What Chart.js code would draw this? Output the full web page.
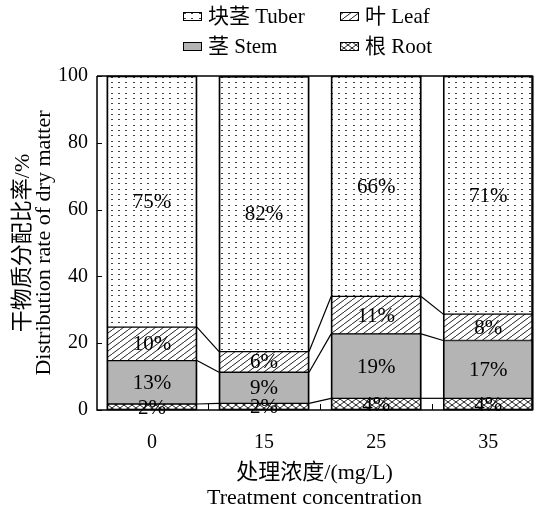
<!DOCTYPE html>
<html>
<head>
<meta charset="utf-8">
<script src="https://cdn.jsdelivr.net/npm/chart.js@4.4.0/dist/chart.umd.min.js"></script>
<style>
html, body { margin: 0; padding: 0; background: #fff; overflow: hidden; }
</style>
</head>
<body>
<canvas id="graphCanvas" width="539" height="510"></canvas>
<script>
// treatment concentrations (mg/L)
const categories = ['0', '15', '25', '35'];
// dry matter distribution (%), bottom to top
const rootVals = [1.8, 2.0, 3.5, 3.5];
const stemVals = [13.0, 9.3, 19.3, 17.3];
const leafVals = [10.0, 6.2, 11.2, 7.9];
const tuberVals = [75.2, 82.4, 66.0, 71.3];
const yTicks = [0, 20, 40, 60, 80, 100];

const serif = "'Liberation Serif', 'Noto Sans CJK SC', serif";

// fill patterns
function makePattern(w, h, draw) {
    const c = document.createElement('canvas');
    c.width = w;
    c.height = h;
    const g = c.getContext('2d');
    g.fillStyle = '#fff';
    g.fillRect(0, 0, w, h);
    draw(g, w, h);
    return g.createPattern(c, 'repeat');
}

const dotFill = makePattern(22, 16, (g) => {
    g.fillStyle = '#444';
    [1, 8, 15].forEach(x => {
        [2, 7, 13].forEach(y => g.fillRect(x, y, 2, 1));
    });
});

const hatchFill = makePattern(8, 6, (g, w, h) => {
    g.strokeStyle = '#222';
    g.lineWidth = 1;
    for (let k = -1; k <= 1; k++) {
        g.beginPath();
        g.moveTo(k * w, h);
        g.lineTo(k * w + w, 0);
        g.stroke();
    }
});

const crossFill = makePattern(8, 6, (g, w, h) => {
    g.strokeStyle = '#222';
    g.lineWidth = 1;
    for (let k = -1; k <= 1; k++) {
        g.beginPath();
        g.moveTo(k * w, h);
        g.lineTo(k * w + w, 0);
        g.moveTo(k * w, 0);
        g.lineTo(k * w + w, h);
        g.stroke();
    }
});

function toPoints(vals) {
    return vals.map((v, i) => ({ x: i, y: v }));
}

// percentage labels + connecting lines between bars
const segmentPlugin = {
    id: 'segments',
    afterDatasetsDraw(chart) {
        const ctx = chart.ctx;
        const n = chart.data.datasets.length;
        ctx.save();
        ctx.strokeStyle = '#000';
        ctx.lineWidth = 1.2;
        for (let d = 0; d < n - 1; d++) {
            const els = chart.getDatasetMeta(d).data;
            for (let i = 0; i < els.length - 1; i++) {
                const a = els[i], b = els[i + 1];
                ctx.beginPath();
                ctx.moveTo(a.x + a.width / 2, a.y);
                ctx.lineTo(b.x - b.width / 2, b.y);
                ctx.stroke();
            }
        }
        // outline of whole bars
        ctx.lineWidth = 1.6;
        const bottoms = chart.getDatasetMeta(0).data;
        const tops = chart.getDatasetMeta(n - 1).data;
        tops.forEach((t, i) => {
            const b = bottoms[i];
            ctx.strokeRect(t.x - t.width / 2 + 0.5, t.y + 0.5, t.width - 1, b.base - t.y - 1);
        });
        ctx.fillStyle = '#000';
        ctx.font = '21px ' + serif;
        ctx.textAlign = 'center';
        ctx.textBaseline = 'middle';
        chart.data.datasets.forEach((ds, d) => {
            chart.getDatasetMeta(d).data.forEach((el, i) => {
                const v = Math.round(ds.data[i].y);
                ctx.fillText(v + '%', el.x, (el.y + el.base) / 2 + 1);
            });
        });
        ctx.restore();
    },
    afterDraw(chart) {
        const ctx = chart.ctx;
        const area = chart.chartArea;
        const xs = chart.scales.x, ys = chart.scales.y;
        ctx.save();
        ctx.strokeStyle = '#000';
        ctx.lineWidth = 1.5;
        // frame
        ctx.beginPath();
        ctx.moveTo(area.left, area.top);
        ctx.lineTo(area.right, area.top);
        ctx.lineTo(area.right, area.bottom);
        ctx.lineTo(area.left, area.bottom);
        ctx.lineTo(area.left, area.top);
        ctx.stroke();
        // inward ticks
        ctx.lineWidth = 1;
        yTicks.forEach(t => {
            const y = Math.round(ys.getPixelForValue(t)) + 0.5;
            ctx.beginPath();
            ctx.moveTo(area.left, y);
            ctx.lineTo(area.left + 5, y);
            ctx.stroke();
        });
        for (let i = 0; i < categories.length - 1; i++) {
            const x = Math.round(xs.getPixelForValue(i + 0.5)) + 0.5;
            ctx.beginPath();
            ctx.moveTo(x, area.bottom);
            ctx.lineTo(x, area.bottom - 6);
            ctx.stroke();
        }
        // legend, two columns
        const slots = [[3, 183, 12], [2, 340, 12], [1, 183, 42], [0, 340, 42]];
        ctx.font = '21px ' + serif;
        ctx.textAlign = 'left';
        ctx.textBaseline = 'middle';
        slots.forEach(([d, x, y]) => {
            const ds = chart.data.datasets[d];
            ctx.fillStyle = ds.backgroundColor;
            ctx.fillRect(x, y, 19, 9);
            ctx.strokeStyle = '#000';
            ctx.strokeRect(x + 0.5, y + 0.5, 18, 8);
            ctx.fillStyle = '#000';
            ctx.fillText(ds.label, x + 25, y + 5);
        });
        ctx.restore();
    }
};

const ctx = document.getElementById('graphCanvas').getContext('2d');

window.myChart = new Chart(ctx, {
    type: 'bar',
    data: {
        datasets: [
            { label: '根 Root', data: toPoints(rootVals), backgroundColor: crossFill },
            { label: '茎 Stem', data: toPoints(stemVals), backgroundColor: '#b4b4b4' },
            { label: '叶 Leaf', data: toPoints(leafVals), backgroundColor: hatchFill },
            { label: '块茎 Tuber', data: toPoints(tuberVals), backgroundColor: dotFill }
        ].map(ds => Object.assign(ds, {
            borderColor: '#000',
            borderWidth: 1,
            borderSkipped: false,
            barThickness: 90
        }))
    },
    options: {
        responsive: false,
        animation: false,
        layout: { padding: { top: 76, right: 7, left: 0, bottom: 0 } },
        plugins: {
            legend: { display: false },
            tooltip: { enabled: false }
        },
        scales: {
            x: {
                type: 'linear',
                stacked: true,
                offset: false,
                min: -0.49,
                max: 3.39,
                afterFit(s) { s.height = 100; },
                afterBuildTicks(s) { s.ticks = categories.map((c, i) => ({ value: i })); },
                grid: { display: false, drawTicks: false, offset: false },
                border: { display: false },
                ticks: {
                    color: '#000',
                    font: { family: serif, size: 20 },
                    padding: 21,
                    maxRotation: 0,
                    callback: (v) => categories[v]
                },
                title: {
                    display: true,
                    text: ['处理浓度/(mg/L)', 'Treatment concentration'],
                    color: '#000',
                    font: { family: serif, size: 22, lineHeight: 1.1 },
                    padding: { top: 0, bottom: 0 }
                }
            },
            y: {
                stacked: true,
                min: 0,
                max: 100,
                afterFit(s) { s.width = 97; },
                afterBuildTicks(s) { s.ticks = yTicks.map(v => ({ value: v })); },
                grid: { display: false, drawTicks: false },
                border: { display: false },
                ticks: {
                    color: '#000',
                    font: { family: serif, size: 20 },
                    padding: 9
                },
                title: {
                    display: true,
                    text: ['干物质分配比率/%', 'Distribution rate of dry matter'],
                    color: '#000',
                    font: { family: serif, size: 22, lineHeight: 0.95 },
                    padding: { top: 13, bottom: 0 }
                }
            }
        }
    },
    plugins: [segmentPlugin]
});
</script>
</body>
</html>
